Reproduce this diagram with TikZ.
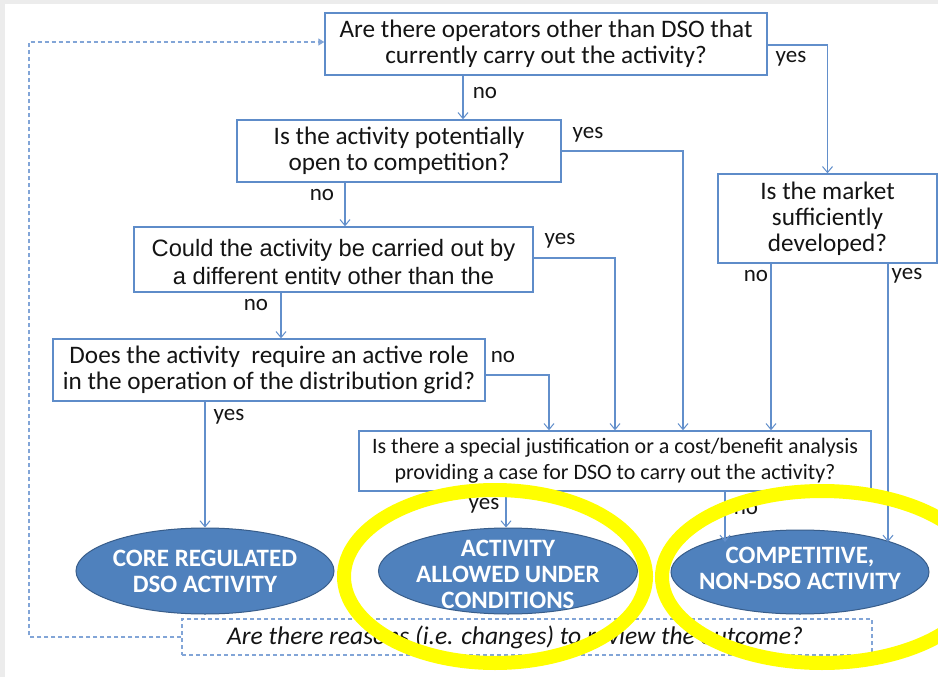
\documentclass[tikz,border=0pt]{standalone}
\usepackage{fontspec}
\setmainfont{Carlito}
\newfontfamily\arialfont{Liberation Sans}
\usetikzlibrary{arrows.meta,shapes.geometric}
\definecolor{boxline}{RGB}{94,140,201}
\definecolor{wirecol}{RGB}{98,143,203}
\definecolor{dashcol}{RGB}{130,165,215}
\definecolor{blobfill}{RGB}{79,129,189}
\definecolor{blobline}{RGB}{56,93,138}
\definecolor{inktext}{RGB}{20,20,20}
\definecolor{framecol}{RGB}{236,236,236}
\definecolor{marker}{RGB}{255,255,0}
\begin{document}
\begin{tikzpicture}[x=1pt,y=-1pt,
  qbox/.style={draw=boxline,line width=1.4pt,rectangle,inner sep=0pt,align=center,
    text=inktext,font=\fontsize{25.2}{26}\selectfont},
  blob/.style={ellipse,fill=blobfill,draw=blobline,line width=1pt,inner sep=0pt},
  blobtext/.style={text=white,align=center,inner sep=0pt,font=\bfseries\fontsize{25}{26}\selectfont},
  wire/.style={draw=wirecol,line width=1.2pt,-{Straight Barb[length=6pt,width=10pt,line width=1pt]}},
  feedback/.style={draw=dashcol,line width=1.3pt,dash pattern=on 4pt off 3pt,
    -{Triangle[length=6pt,width=7pt]}},
  answer/.style={text=inktext,font=\fontsize{23}{26}\selectfont,inner sep=0pt},
  hilite/.style={draw=marker,line width=14pt},
]
\clip (0,0) rectangle (938,677);
\fill[white] (0,0) rectangle (938,677);
\fill[framecol] (0,0) rectangle (938,4);
\fill[framecol] (0,0) rectangle (5,677);

% question boxes
\node[qbox,minimum width=442pt,minimum height=62pt] (b1) at (546,44)
  {Are there operators other than DSO that\\currently carry out the activity?};
\node[qbox,minimum width=324pt,minimum height=62pt] (b2) at (399,151)
  {Is the activity potentially\\open to competition?};
\node[qbox,minimum width=219pt,minimum height=89pt] (b3) at (827.5,218.5)
  {Is the market\\sufficiently\\developed?};
\node[qbox,minimum width=399pt,minimum height=65pt] (b4) at (333.5,259.5) {};
\begin{scope}
  \clip (b4.north west) rectangle (b4.east |- 0,284.5);
  \node[text=inktext,align=center,inner sep=0pt,
    font=\arialfont\fontsize{23.7}{28}\selectfont] (b4t) at (333.5,264)
    {Could the activity be carried out by\\a different entity other than the};
\end{scope}
\node[qbox,minimum width=432pt,minimum height=62pt] (b6) at (269,370)
  {Does the activity\ \ require an active role\\in the operation of the distribution grid?};
\node[qbox,minimum width=512pt,minimum height=60pt,font=\fontsize{22}{26}\selectfont] (b5) at (615,461)
  {Is there a special justification or a cost/benefit analysis\\providing a case for DSO to carry out the activity?};

% review box
\node[draw=dashcol,line width=1.1pt,dash pattern=on 4pt off 3pt,minimum width=690pt,
  minimum height=36pt,inner sep=0pt] (rev) at (527,637) {};
\node[text=inktext,inner sep=0pt,font=\itshape\fontsize{25.5}{28}\selectfont] (revt) at (515,637)
  {Are there reasons (i.e. changes) to review the outcome?};

% outcomes
\node[blob,minimum width=258pt,minimum height=86pt] (e1) at (205,571) {};
\node[blobtext] (e1t) at (205,571) {CORE REGULATED\\DSO ACTIVITY};
\node[blob,minimum width=259pt,minimum height=86pt] (e2) at (508,571) {};
\node[blobtext] (e2t) at (508,574) {ACTIVITY\\ALLOWED UNDER\\CONDITIONS};
\node[blob,minimum width=258pt,minimum height=84pt] (e3) at (800,572) {};
\node[blobtext] (e3t) at (800,568) {COMPETITIVE,\\NON-DSO ACTIVITY};

% decision connectors
\draw[wire] (b1.south -| 463,0) -- (b2.north -| 463,0);
\draw[wire] (b1.east |- 0,45) -| (b3.north);
\draw[wire] (b2.east) -| (b5.north -| 683,0);
\draw[wire] (b2.south -| 345,0) -- (b4.north -| 345,0);
\draw[wire] (b4.east |- 0,258) -| (b5.north -| 615,0);
\draw[wire] (b4.south -| 281,0) -- (b6.north -| 281,0);
\draw[wire] (b6.east |- 0,375) -| (b5.north -| 549,0);
\draw[wire] (b6.south -| e1.north) -- (e1.north);
\draw[wire] (b3.south -| 771,0) -- (b5.north -| 771,0);
\draw[wire] (b3.south -| 888,0) -- (e3.north east -| 888,0);
\draw[wire] (b5.south -| 506,0) -- (e2.north -| 506,0);
\draw[wire] (b5.south -| 725,0) -- (e3.north west -| 725,0);

% feedback loop
\coordinate (fbA) at (29,636);
\coordinate (fbB) at (29,42);
\draw[feedback] (rev.west) -- (rev.west -| fbA) -- (fbB) -- (b1.west |- fbB);

% answer labels
\node[answer] (a1) at (485,93) {no};
\node[answer] (a2) at (791,59) {yes};
\node[answer] (a3) at (588,135) {yes};
\node[answer] (a4) at (322,195) {no};
\node[answer] (a5) at (560,241) {yes};
\node[answer] (a6) at (256,305) {no};
\node[answer] (a7) at (503,357) {no};
\node[answer] (a8) at (229,417) {yes};
\node[answer] (a9) at (756,276) {no};
\node[answer] (a10) at (907,276) {yes};
\node[answer] (a11) at (484,506) {yes};
\node[answer] (a12) at (746,509) {no};

% highlight rings
\draw[hilite] (495,576.5) ellipse [x radius=151, y radius=86.5];
\draw[hilite] (822,577) ellipse [x radius=160, y radius=86];
\end{tikzpicture}
\end{document}
